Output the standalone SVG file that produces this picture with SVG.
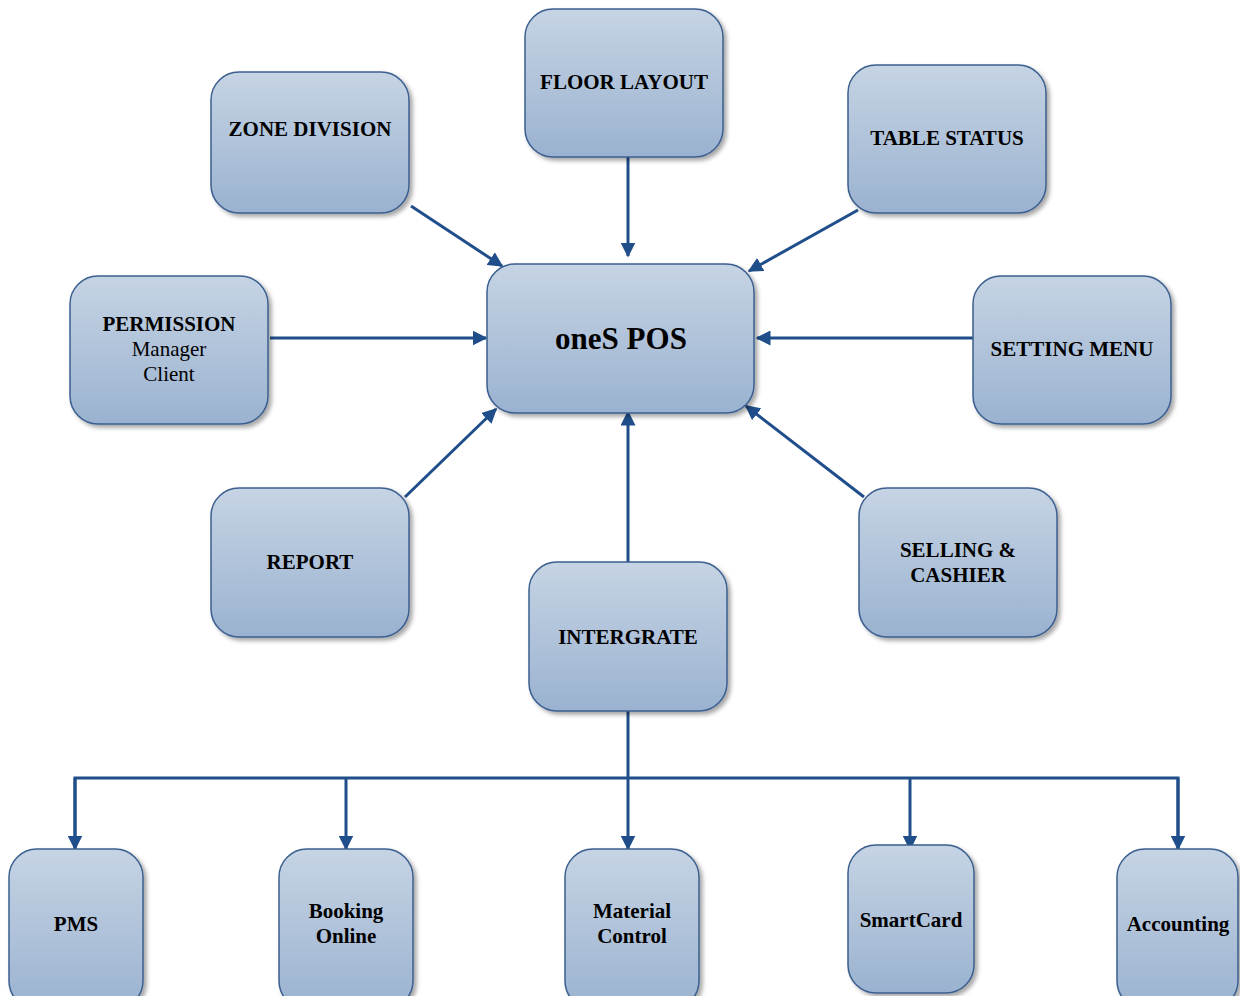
<svg xmlns="http://www.w3.org/2000/svg" width="1240" height="996" viewBox="0 0 1240 996">
<defs>
<linearGradient id="g" x1="0" y1="0" x2="0" y2="1">
<stop offset="0" stop-color="#c6d4e4"/>
<stop offset="1" stop-color="#9ab2d0"/>
</linearGradient>
<filter id="sh" x="-10%" y="-10%" width="125%" height="125%">
<feDropShadow dx="3" dy="3" stdDeviation="2" flood-color="#000" flood-opacity="0.35"/>
</filter>
<marker id="ah" viewBox="0 0 10 10" refX="9" refY="5" markerWidth="5" markerHeight="5" markerUnits="strokeWidth" orient="auto">
<path d="M0,0 L10,5 L0,10 z" fill="#1f4e8a"/>
</marker>
<style>
.box{fill:url(#g);stroke:#3b5f8f;stroke-width:1.5;filter:url(#sh)}
.t{font-family:"Liberation Serif",serif;font-weight:bold;font-size:21px;fill:#000;text-anchor:middle}
.n{font-family:"Liberation Serif",serif;font-size:21px;fill:#000;text-anchor:middle}
.c{fill:none;stroke:#1f4e8a;stroke-width:3}
.a{marker-end:url(#ah)}
</style>
</defs>
<rect width="1240" height="996" fill="#fff"/>
<g id="connectors">
<line class="c a" x1="411" y1="206" x2="502" y2="266"/>
<line class="c a" x1="628" y1="157" x2="628" y2="256"/>
<line class="c a" x1="858" y1="210" x2="749" y2="271"/>
<line class="c a" x1="270" y1="338" x2="486" y2="338"/>
<line class="c a" x1="973" y1="338" x2="757" y2="338"/>
<line class="c a" x1="405" y1="497" x2="496" y2="409"/>
<line class="c a" x1="864" y1="497" x2="746" y2="406"/>
<line class="c a" x1="628" y1="562" x2="628" y2="412"/>
<line class="c a" x1="628" y1="711" x2="628" y2="849"/>
<polyline class="c" points="75,848 75,778 1178,778 1178,848"/>
<line class="c a" x1="75" y1="778" x2="75" y2="849"/>
<line class="c a" x1="346" y1="778" x2="346" y2="849"/>
<line class="c a" x1="910" y1="778" x2="910" y2="849"/>
<line class="c a" x1="1178" y1="778" x2="1178" y2="849"/>
</g>
<g id="zone"><rect class="box" x="211" y="72" width="198" height="141" rx="28"/><text class="t" x="310" y="136">ZONE DIVISION</text></g>
<g id="floor"><rect class="box" x="525" y="9" width="198" height="148" rx="28"/><text class="t" x="624" y="89">FLOOR LAYOUT</text></g>
<g id="table"><rect class="box" x="848" y="65" width="198" height="148" rx="28"/><text class="t" x="947" y="145">TABLE STATUS</text></g>
<g id="permission"><rect class="box" x="70" y="276" width="198" height="148" rx="28"/><text class="t" x="169" y="331">PERMISSION</text><text class="n" x="169" y="356">Manager</text><text class="n" x="169" y="381">Client</text></g>
<g id="pos"><rect class="box" x="487" y="264" width="267" height="149" rx="28"/><text class="t" x="621" y="349" style="font-size:31px">oneS POS</text></g>
<g id="setting"><rect class="box" x="973" y="276" width="198" height="148" rx="28"/><text class="t" x="1072" y="356">SETTING MENU</text></g>
<g id="report"><rect class="box" x="211" y="488" width="198" height="149" rx="28"/><text class="t" x="310" y="569">REPORT</text></g>
<g id="selling"><rect class="box" x="859" y="488" width="198" height="149" rx="28"/><text class="t" x="958" y="557">SELLING &amp;</text><text class="t" x="958" y="582">CASHIER</text></g>
<g id="intergrate"><rect class="box" x="529" y="562" width="198" height="149" rx="28"/><text class="t" x="628" y="644">INTERGRATE</text></g>
<g id="pms"><rect class="box" x="9" y="849" width="134" height="160" rx="28"/><text class="t" x="76" y="931">PMS</text></g>
<g id="booking"><rect class="box" x="279" y="849" width="134" height="160" rx="28"/><text class="t" x="346" y="918">Booking</text><text class="t" x="346" y="943">Online</text></g>
<g id="material"><rect class="box" x="565" y="849" width="134" height="160" rx="28"/><text class="t" x="632" y="918">Material</text><text class="t" x="632" y="943">Control</text></g>
<g id="smartcard"><rect class="box" x="848" y="845" width="126" height="148" rx="28"/><text class="t" x="911" y="927">SmartCard</text></g>
<g id="accounting"><rect class="box" x="1117" y="849" width="121" height="160" rx="28"/><text class="t" x="1178" y="931">Accounting</text></g>
</svg>
